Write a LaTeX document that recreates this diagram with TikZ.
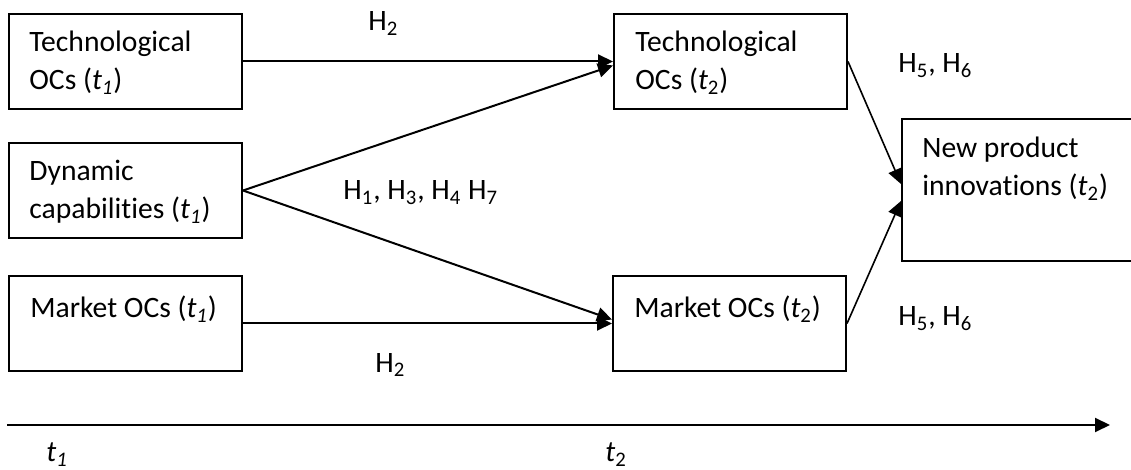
\documentclass[tikz,border=0pt]{standalone}
\usepackage{fontspec}
\setmainfont{Carlito}[RawFeature={-liga,-clig,-calt,-dlig}]
\usetikzlibrary{arrows.meta}

\tikzset{
  ocbox/.style={draw, line width=1pt, anchor=north west, inner sep=0pt,
    minimum width=116.5pt, minimum height=47.5pt},
  boxtext/.style={anchor=base west, inner sep=0pt, align=left,
    font=\fontsize{14.8}{19}\selectfont},
  hyp/.style={anchor=base west, inner sep=0pt, font=\fontsize{14.8}{19}\selectfont},
  link/.style={-{Triangle[length=7.5pt,width=7pt]}, line width=1pt},
  thinlink/.style={link, line width=0.8pt}
}

\begin{document}
\begin{tikzpicture}[x=0.5pt,y=-0.5pt]
  \useasboundingbox (0,0) rectangle (1131,470);
  \clip (0,0) rectangle (1131,470);

%% boxes at t1
  \node[ocbox] (techA) at (8,13) {};
  \node[ocbox] (dyncap) at (8,142) {};
  \node[ocbox] (mktA) at (8,275) {};

%% boxes at t2
  \node[ocbox] (techB) at (613,13) {};
  \node[ocbox] (mktB) at (612,275) {};
  \node[ocbox, minimum width=130pt, minimum height=71pt] (newprod) at (901,118) {};

%% box texts (placed at the baseline of the last line)
  \node[boxtext] (techAtxt) at (29,90) {Technological\\OCs (\textit{t\textsubscript{1}})};
  \node[boxtext] (dyncaptxt) at (29,219) {Dynamic\\capabilit\kern0pt ies (\textit{t\textsubscript{1}})};
  \node[boxtext] (mktAtxt) at (30,318) {Market OCs (\textit{t\textsubscript{1}})};
  \node[boxtext] (techBtxt) at (635,90) {Technological\\OCs (\textit{t}\textsubscript{2})};
  \node[boxtext] (mktBtxt) at (634,318) {Market OCs (\textit{t}\textsubscript{2})};
  \node[boxtext] (newprodtxt) at (922,196) {New product\\innovat\kern0pt ions (\textit{t}\textsubscript{2})};

%% hypotheses
  \node[hyp] (hypTwoA) at (368,31) {H\textsubscript{2}};
  \node[hyp] (hypTwoB) at (375,372) {H\textsubscript{2}};
  \node[hyp] (hypDc) at (343,200) {H\textsubscript{1}, H\textsubscript{3}, H\textsubscript{4} H\textsubscript{7}};
  \node[hyp] (hypFiveA) at (898,73) {H\textsubscript{5}, H\textsubscript{6}};
  \node[hyp] (hypFiveB) at (898,326) {H\textsubscript{5}, H\textsubscript{6}};

%% arrows
  \draw[link] (techA.east) -- (techB.west);
  \draw[link] (dyncap.east) -- ([yshift=-2pt]techB.west);
  \draw[link] (dyncap.east) -- ([yshift=2pt]mktB.west);
  \draw[link] (mktA.east) -- (mktB.west);
  \draw[thinlink] (techB.east) -- ([yshift=3pt]newprod.west);
  \draw[thinlink] (mktB.east) -- ([yshift=-5.5pt]newprod.west);

%% time line
  \coordinate (tstart) at (7,425);
  \coordinate (tend) at (1110,425);
  \draw[link] (tstart) -- (tend);
  \node[hyp] (tOne) at (46,462) {\textit{t\textsubscript{1}}};
  \node[hyp] (tTwo) at (605,462) {\textit{t}\textsubscript{2}};
\end{tikzpicture}
\end{document}
